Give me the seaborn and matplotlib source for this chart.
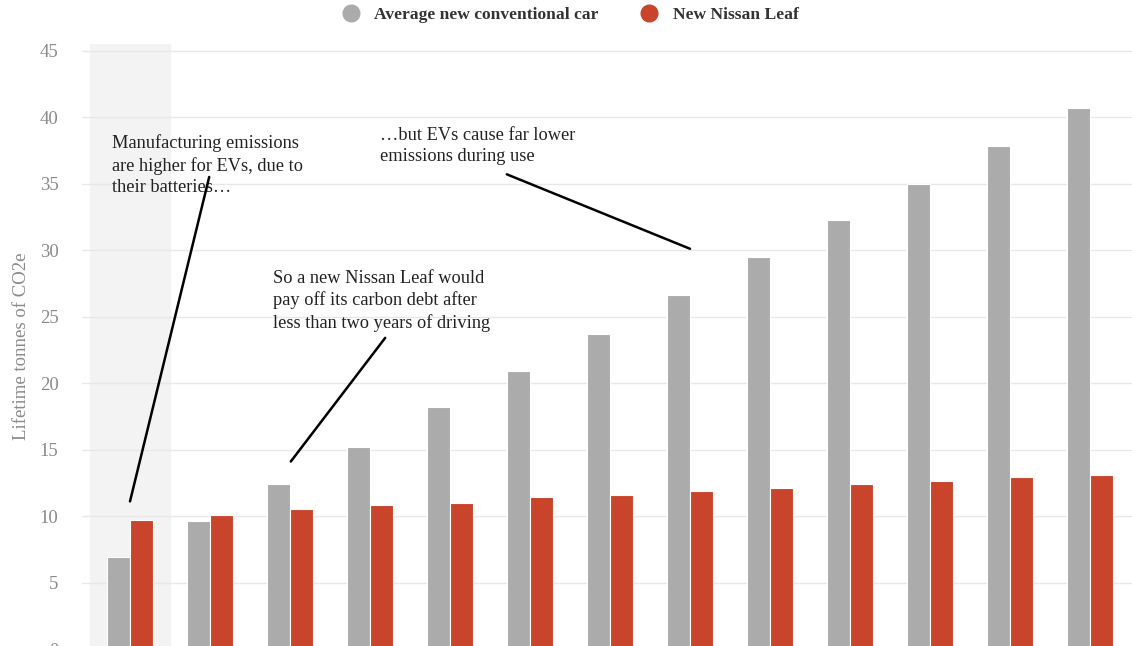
import matplotlib.pyplot as plt
from matplotlib.lines import Line2D
import seaborn as sns
import pandas as pd

# years of driving (x labels are not shown in the picture)
years = [str(i) for i in range(13)]
conventional = [6.9, 9.65, 12.4, 15.2, 18.2, 20.9, 23.7, 26.6, 29.5, 32.3, 35.0, 37.8, 40.7]
leaf = [9.7, 10.1, 10.5, 10.8, 11.0, 11.4, 11.6, 11.9, 12.1, 12.4, 12.6, 12.9, 13.1]
series = ["Average new conventional car", "New Nissan Leaf"]
colors = ["#ababab", "#c8452c"]

df = pd.DataFrame({
    "year": years * 2,
    "tonnes": conventional + leaf,
    "car": [series[0]] * len(years) + [series[1]] * len(years),
})

sns.set_style("white")
plt.rcParams["font.family"] = ["Liberation Serif", "DejaVu Serif"]

fig = plt.figure(figsize=(11.32, 6.46), dpi=100)
ax = fig.add_axes([82 / 1132, -3 / 646, 1050 / 1132, 605 / 646])

ax.axvspan(-0.5, 0.5, color="#f3f3f3", zorder=0)
sns.barplot(data=df, x="year", y="tonnes", hue="car", palette=colors,
            saturation=1, width=0.58, edgecolor="white", linewidth=0.8,
            legend=False, ax=ax, zorder=2)

ax.set_xlim(-0.6, 12.525)
ax.set_ylim(0, 45.5)
ax.set_yticks(range(0, 50, 5))
ax.yaxis.grid(True, color="#e8e8e8", linewidth=1)
ax.set_axisbelow(True)
ax.set_xticks([])
ax.set_xlabel("")
ax.set_ylabel("Lifetime tonnes of CO2e", fontsize=13.5, color="#8a8a8a", labelpad=7)
ax.tick_params(axis="y", length=0, pad=17, labelsize=13.5, labelcolor="#8a8a8a")
for s in ax.spines.values():
    s.set_visible(False)

note_kw = dict(fontsize=13.2, color="#222222", va="top", ha="left", linespacing=1.33)
ax.text(-0.225, 38.7, "Manufacturing emissions\nare higher for EVs, due to\ntheir batteries…", **note_kw)
ax.text(1.79, 28.5, "So a new Nissan Leaf would\npay off its carbon debt after\nless than two years of driving", **note_kw)
ax.text(3.125, 39.25, "…but EVs cause far lower\nemissions during use", **note_kw)

line_kw = dict(color="black", linewidth=1.8, zorder=3)
ax.plot([0.99, 0.0], [35.5, 11.1], **line_kw)
ax.plot([3.19, 2.01], [23.4, 14.1], **line_kw)
ax.plot([4.71, 7.0], [35.7, 30.1], **line_kw)

handles = [Line2D([], [], marker="o", linestyle="", markersize=12,
                  markerfacecolor=c, markeredgecolor=c) for c in colors]
fig.legend(handles, series, loc="center", bbox_to_anchor=(0.5, 1 - 15 / 646),
           ncol=2, frameon=False, handletextpad=0.35, columnspacing=1.9,
           prop={"family": "Liberation Serif", "weight": "bold", "size": 12.6},
           labelcolor="#333333")

fig.savefig("out.png", dpi=100)
